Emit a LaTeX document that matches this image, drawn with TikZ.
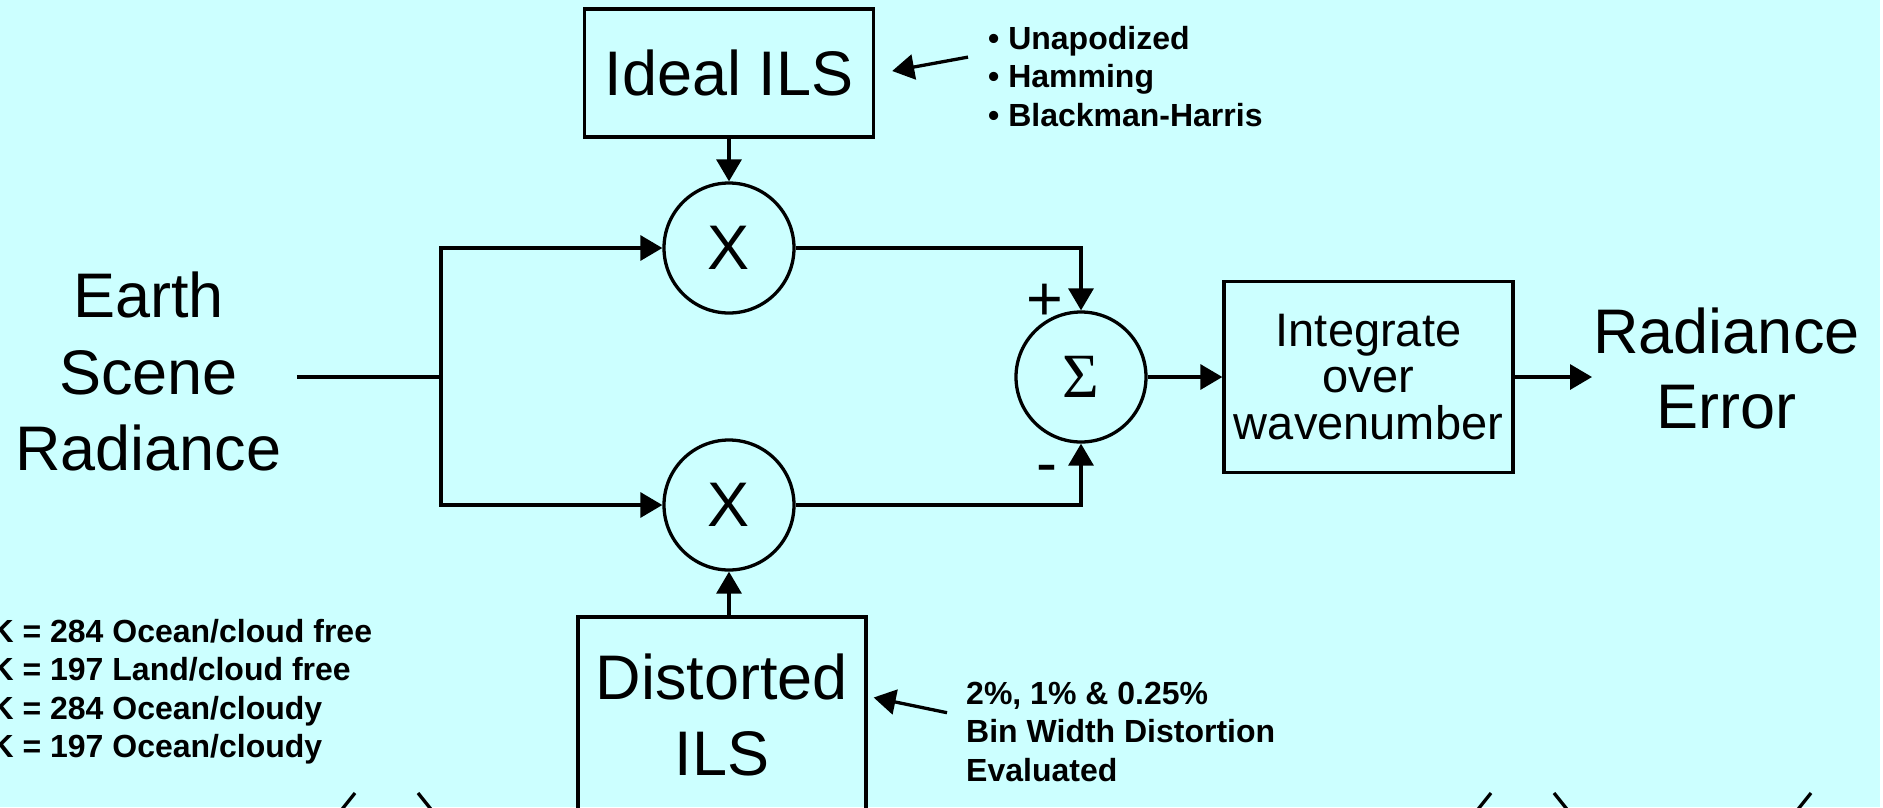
\documentclass[tikz,border=0pt]{standalone}
\usepackage{fontspec}
\setmainfont{Liberation Sans}
\newfontfamily\sigmafont{Liberation Serif}
\usetikzlibrary{shapes, arrows.meta}
\definecolor{slidecyan}{RGB}{204,255,255}

\begin{document}
\begin{tikzpicture}[
    x=1pt, y=-1pt,
    block/.style={rectangle, draw=black, line width=3.3pt, inner sep=0pt, minimum width=289pt, align=center, font=\fontsize{63}{76}\selectfont},
    mixer/.style={circle, draw=black, line width=3.3pt, inner sep=0pt, minimum size=130pt, font=\fontsize{63}{76}\selectfont},
    bigtext/.style={align=center, inner sep=15pt, font=\fontsize{63}{76.5}\selectfont},
    note/.style={align=left, inner sep=0pt, anchor=north west, font=\fontsize{32}{38.5}\selectfont\bfseries},
    sign/.style={inner sep=0pt, anchor=base, font=\fontsize{63}{76}\selectfont},
    wire/.style={draw, line width=3.3pt},
    link/.style={draw, line width=3.3pt, -{Triangle[length=22pt, width=25pt]}}
]

% Slide
\fill[white] (0,0) rectangle (1883,807);
\fill[slidecyan] (0,0) rectangle (1880,807);
\useasboundingbox (0,0) rectangle (1883,807);
\clip (0,0) rectangle (1883,807);

% Blocks
\node[block, minimum height=128pt] (IdealILS) at (729,73) {Ideal ILS};
\node[block, minimum width=288pt, minimum height=195pt] (Distorted) at (722,714.5) {Distorted\\ILS};
\node[block, minimum height=191pt, font=\fontsize{47}{46.5}\selectfont] (Integrate) at (1368.5,377) {Integrate\\over\\wavenumber};

% Operators
\node[mixer] (XTop) at (729,248) {X};
\node[mixer] (XBot) at (729,505) {X};
\node[mixer] (Sum) at (1081,377) {\sigmafont Σ};

% Signals
\node[bigtext] (Earth) at (148.5,371.5) {Earth\\Scene\\Radiance};
\node[bigtext, font=\fontsize{63}{75}\selectfont] (RadErr) at (1726.5,368) {Radiance\\Error};
\node[sign] (Plus) at (1045,320) {+};
\node[sign] (Minus) at (1047,484) {-};

% Notes
\node[note] (Windows) at (988,26.1) {• Unapodized\\• Hamming\\• Blackman-Harris};
\node[note] (BinWidth) at (966,681.7) {2\%, 1\% \& 0.25\%\\Bin Width Distortion\\Evaluated};
\node[note] (Scenes) at (-9.6,618.7) {K = 284 Ocean/cloud free\\K = 197 Land/cloud free\\K = 284 Ocean/cloudy\\K = 197 Ocean/cloudy};

% Connections
\coordinate (split) at (441,377);
\coordinate (out) at (1592,377);
\draw[wire] (Earth.east |- split) -- (split);
\draw[link] (split) |- (XTop);
\draw[link] (split) |- (XBot);
\draw[link] (IdealILS) -- (XTop);
\draw[link] (Distorted.north -| XBot) -- (XBot);
\draw[link] (XTop) -| (Sum);
\draw[link] (XBot) -| (Sum);
\draw[link] (Sum) -- (Integrate);
\draw[link] (Integrate) -- (out);
\draw[link] ([shift={(-20pt,-31pt)}]Windows.north west) -- ([shift={(17pt,2pt)}]IdealILS.east);
\draw[link] ([shift={(-19pt,-31pt)}]BinWidth.north west) -- ([shift={(6pt,17pt)}]Distorted.east);

% Cut-off shapes at the bottom edge
\foreach \x/\side in {355/-1, 418/1, 1491/-1, 1554/1, 1811/-1}
    \draw[wire] (\x,793) -- ++(\side*16,20);

\end{tikzpicture}
\end{document}
